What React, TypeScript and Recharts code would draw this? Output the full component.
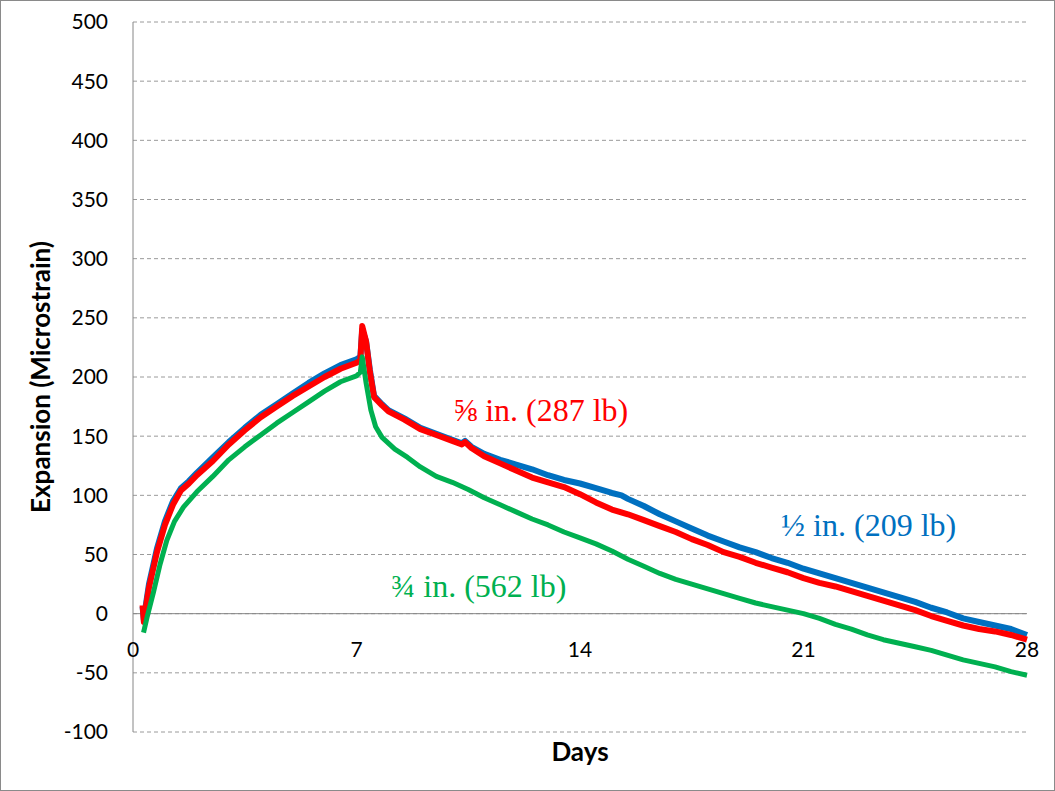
import { LineChart, Line, XAxis, YAxis, CartesianGrid, ReferenceLine, ReferenceDot } from 'recharts'

// ½ in. (209 lb)
const halfDays = [0.3, 0.34, 0.4, 0.5, 0.75, 1.0, 1.25, 1.5, 1.75, 2.0, 2.5, 3.0, 3.5, 4.0, 4.5, 5.0, 5.5, 6.0, 6.5, 7.0, 7.12, 7.18, 7.3, 7.42, 7.55, 7.8, 8.0, 8.5, 9.0, 9.5, 10.0, 10.3, 10.4, 10.6, 11.0, 11.5, 12.0, 12.5, 13.0, 13.5, 14.0, 14.5, 15.0, 15.3, 15.5, 16.0, 16.5, 17.0, 17.5, 18.0, 18.5, 19.0, 19.5, 20.0, 20.5, 21.0, 21.5, 22.0, 22.5, 23.0, 23.5, 24.0, 24.5, 25.0, 25.5, 26.0, 26.5, 27.0, 27.5, 28.0]
const halfVals = [6, -5, 7, 25, 55, 78, 95, 106, 112, 119, 132, 145, 157, 168, 177, 186, 195, 203, 210, 215, 217, 240, 230, 206, 184, 177, 172, 165, 157, 152, 147, 144, 146, 141, 135, 130, 126, 122, 117, 113, 110, 106, 102, 100, 97, 91, 84, 78, 72, 66, 61, 56, 52, 47, 43, 38, 34, 30, 26, 22, 18, 14, 10, 5, 1, -4, -7, -10, -13, -18]

// ⅝ in. (287 lb)
const fiveDays = [0.3, 0.34, 0.4, 0.5, 0.75, 1.0, 1.25, 1.5, 1.75, 2.0, 2.5, 3.0, 3.5, 4.0, 4.5, 5.0, 5.5, 6.0, 6.5, 7.0, 7.12, 7.18, 7.3, 7.42, 7.55, 7.8, 8.0, 8.5, 9.0, 9.5, 10.0, 10.3, 10.4, 10.6, 11.0, 11.5, 12.0, 12.5, 13.0, 13.5, 14.0, 14.5, 15.0, 15.5, 16.0, 16.5, 17.0, 17.5, 18.0, 18.5, 19.0, 19.5, 20.0, 20.5, 21.0, 21.5, 22.0, 22.5, 23.0, 23.5, 24.0, 24.5, 25.0, 25.5, 26.0, 26.5, 27.0, 27.5, 28.0]
const fiveVals = [7, -7, 5, 22, 52, 75, 92, 104, 110, 117, 129, 143, 155, 166, 175, 184, 192, 200, 207, 212, 214, 243, 230, 204, 183, 176, 171, 164, 156, 151, 146, 143, 145, 140, 133, 127, 121, 115, 111, 107, 101, 94, 88, 84, 79, 74, 69, 63, 58, 52, 48, 43, 39, 35, 30, 26, 23, 19, 15, 11, 7, 3, -2, -6, -10, -13, -15, -18, -22]

// ¾ in. (562 lb)
const threeDays = [0.33, 0.45, 0.64, 0.85, 1.06, 1.3, 1.58, 2.0, 2.5, 3.0, 3.5, 4.0, 4.5, 5.0, 5.5, 6.0, 6.5, 7.0, 7.12, 7.18, 7.3, 7.45, 7.6, 7.8, 8.2, 8.6, 9.0, 9.5, 10.0, 10.5, 11.0, 11.5, 12.0, 12.5, 13.0, 13.5, 14.0, 14.5, 15.0, 15.5, 16.0, 16.5, 17.0, 17.5, 18.0, 18.5, 19.0, 19.5, 20.0, 20.5, 21.0, 21.5, 22.0, 22.5, 23.0, 23.5, 24.0, 24.5, 25.0, 25.5, 26.0, 26.5, 27.0, 27.5, 28.0]
const threeVals = [-16, -2, 18, 42, 62, 78, 90, 103, 116, 130, 141, 151, 161, 170, 179, 188, 196, 201, 204, 217, 195, 172, 158, 149, 139, 132, 124, 116, 111, 105, 98, 92, 86, 80, 75, 69, 64, 59, 53, 46, 40, 34, 29, 25, 21, 17, 13, 9, 6, 3, 0, -4, -9, -13, -18, -22, -25, -28, -31, -35, -39, -42, -45, -49, -52]

const xTicks = [0, 7, 14, 21, 28]
const yTicks = [-100, -50, 0, 50, 100, 150, 200, 250, 300, 350, 400, 450, 500]

const labels = [
  { text: '⅝ in. (287 lb)', day: 12.77, val: 172, color: '#FF0000' },
  { text: '½ in. (209 lb)', day: 23.04, val: 75, color: '#0070C0' },
  { text: '¾ in. (562 lb)', day: 10.83, val: 24, color: '#00B050' },
]

const toRows = (days: number[], vals: number[]) => days.map((d, i) => ({ day: d, v: vals[i] }))

const sans = 'Lato, "Open Sans", sans-serif'

function XTick({ x, y, payload }: any) {
  // labels sit just under the zero line, not at the bottom of the plot
  return (
    <text x={x} y={y - 84} textAnchor="middle" dominantBaseline="central" fontFamily={sans} fontSize={21} fill="#000">
      {payload.value}
    </text>
  )
}

function YLabel({ viewBox }: any) {
  const cx = viewBox.x + 40
  const cy = viewBox.y + viewBox.height / 2
  return (
    <text x={cx} y={cy} transform={`rotate(-90 ${cx} ${cy})`} textAnchor="middle" dominantBaseline="central"
      fontFamily={sans} fontWeight="bold" fontSize={26} fill="#000">
      Expansion (Microstrain)
    </text>
  )
}

export default function App() {
  return (
    <div style={{ position: 'absolute', left: 0, top: 0, width: 1055, height: 791, background: '#fff' }}>
      <LineChart width={1055} height={791} margin={{ top: 22, right: 28, bottom: 0, left: 0 }}>
        <CartesianGrid vertical={false} stroke="#9a9a9a" strokeDasharray="4 3" />
        <XAxis type="number" dataKey="day" domain={[0, 28]} ticks={xTicks} axisLine={false} tickLine={false}
          tickSize={0} tickMargin={0} height={59} tick={<XTick />} allowDuplicatedCategory={false}
          label={{ value: 'Days', position: 'insideBottom', offset: 30, fontFamily: sans, fontWeight: 'bold', fontSize: 26, fill: '#000' }} />
        <YAxis type="number" domain={[-100, 500]} ticks={yTicks} width={133} axisLine={{ stroke: '#868686' }}
          tickLine={false} tickSize={0} tickMargin={25} interval={0}
          tick={{ fontFamily: sans, fontSize: 21, fill: '#000' }} label={<YLabel />} />
        <ReferenceLine y={0} stroke="#868686" strokeWidth={1} />
        <Line data={toRows(halfDays, halfVals)} dataKey="v" type="linear" stroke="#0070C0" strokeWidth={6}
          dot={false} isAnimationActive={false} strokeLinejoin="round" />
        <Line data={toRows(fiveDays, fiveVals)} dataKey="v" type="linear" stroke="#FF0000" strokeWidth={6}
          dot={false} isAnimationActive={false} strokeLinejoin="round" />
        <Line data={toRows(threeDays, threeVals)} dataKey="v" type="linear" stroke="#00B050" strokeWidth={5}
          dot={false} isAnimationActive={false} strokeLinejoin="round" />
        {labels.map((l) => (
          <ReferenceDot key={l.text} x={l.day} y={l.val} r={0} fill="none" stroke="none"
            label={{ value: l.text, position: 'center', fill: l.color, fontSize: 32, fontFamily: '"Liberation Serif", serif' }} />
        ))}
      </LineChart>
      <div style={{ position: 'absolute', inset: 0, border: '1px solid #8a8a8a', pointerEvents: 'none' }} />
    </div>
  )
}
